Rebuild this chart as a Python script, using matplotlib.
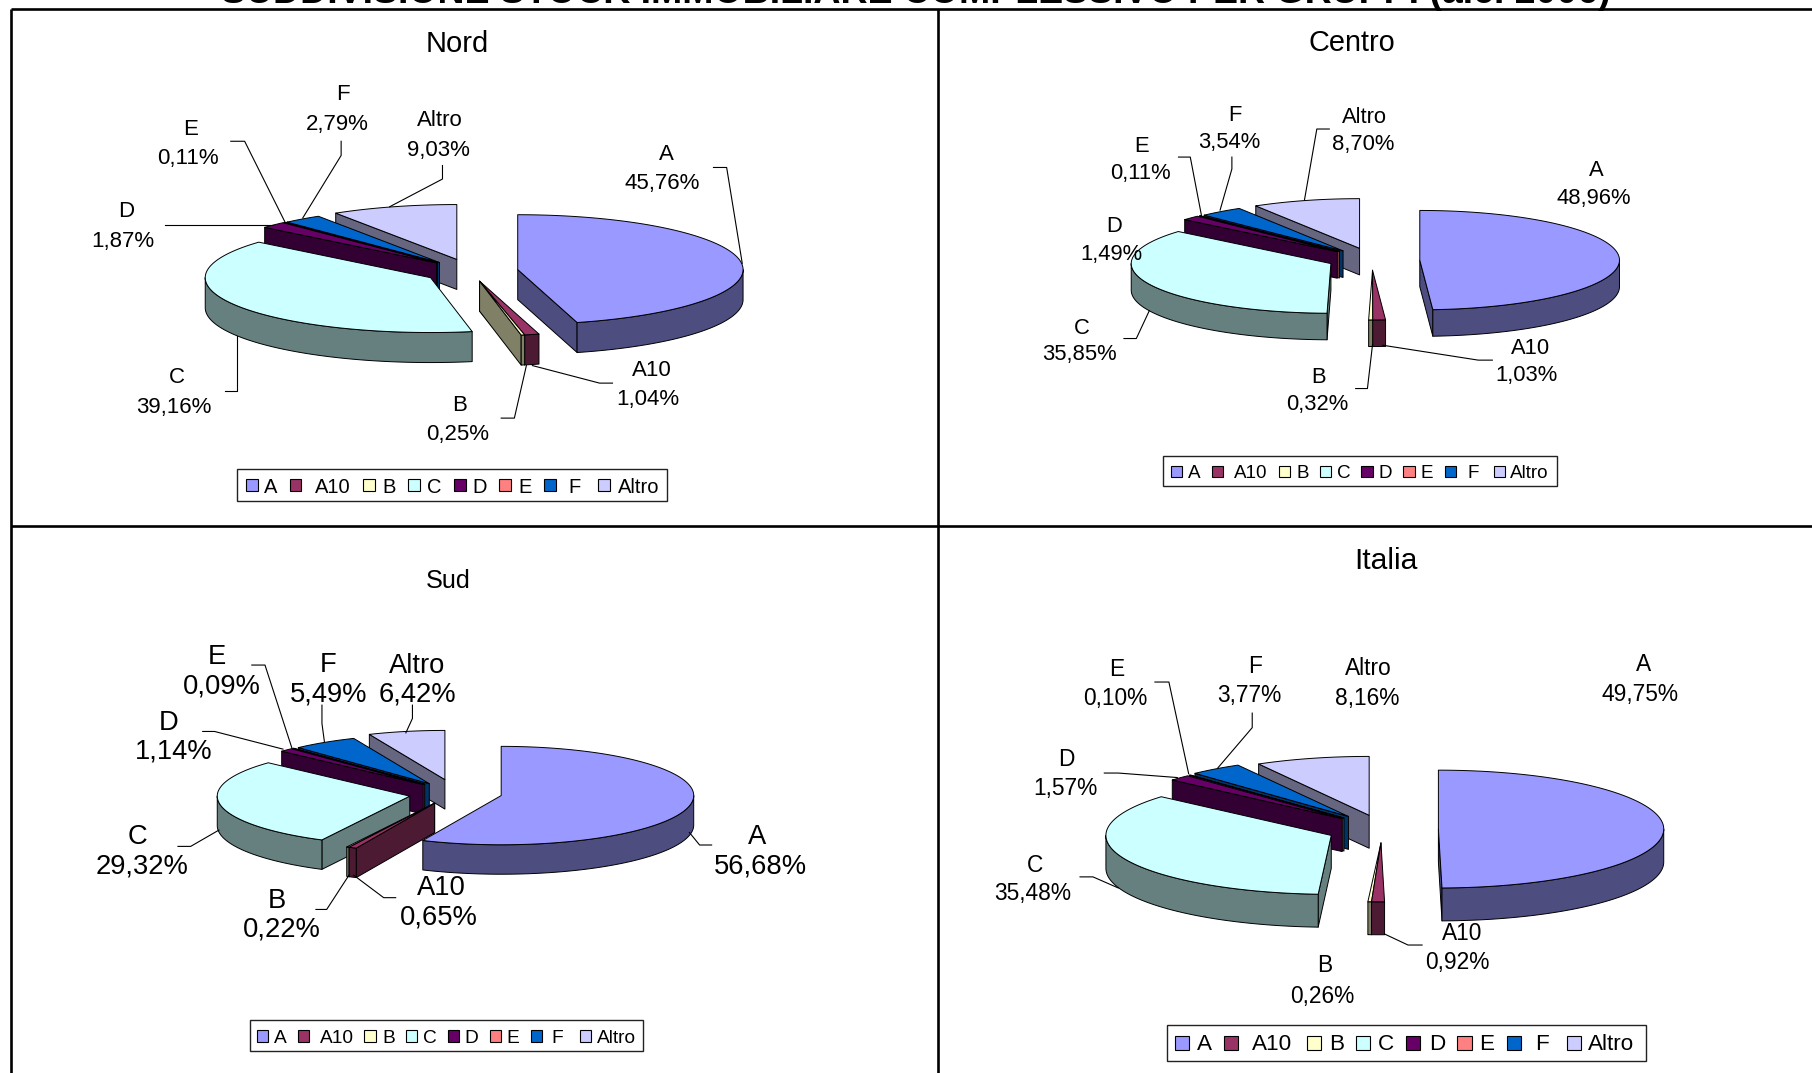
import numpy as np
import matplotlib
matplotlib.use("Agg")
import matplotlib.pyplot as plt
from matplotlib.patches import Polygon, Rectangle

plt.rcParams["font.family"] = ["Liberation Sans", "DejaVu Sans"]

# Building stock shares per cadastral group (percent)
categories = ["A", "A10", "B", "C", "D", "E", "F", "Altro"]
nord_values = [45.76, 1.04, 0.25, 39.16, 1.87, 0.11, 2.79, 9.03]
centro_values = [48.96, 1.03, 0.32, 35.85, 1.49, 0.11, 3.54, 8.70]
sud_values = [56.68, 0.65, 0.22, 29.32, 1.14, 0.09, 5.49, 6.42]
italia_values = [49.75, 0.92, 0.26, 35.48, 1.57, 0.10, 3.77, 8.16]

top_colors = ["#9999FF", "#993366", "#FFFFCC", "#CCFFFF", "#660066", "#FF8080", "#0066CC", "#CCCCFF"]
side_colors = ["#4D4D80", "#4D1A33", "#808066", "#668080", "#330033", "#804040", "#003366", "#666680"]

TITLE = "SUDDIVISIONE STOCK IMMOBILIARE COMPLESSIVO PER GRUPPI (a.c. 2006)"

# Vertical correction so centred text sits on the intended line
TEXT_DY = 2.0

# Page layout in a 1568 x 929 drawing space
panels = {
    "Nord": dict(
        values=nord_values, title_xy=(395.5, 36), title_size=21, label_size=16,
        rx=195, ry=47.5, depth=26,
        apex=[(448, 233.4), (415, 243.4), (415, 243.4), (372.6, 240.4),
              (377.7, 227.6), (378.5, 227.5), (380.3, 227.3), (395.3, 224.6)],
        names=[(577, 132), (564, 319), (398, 349), (153, 325), (109, 181), (165, 110), (297, 80), (381, 102)],
        pcts=[(573, 157), (561, 344), (396, 374), (150, 351), (106, 207), (163, 135), (292, 106), (379, 128)],
        leaders=[[(617.4, 145), (628.8, 145), (642.3, 228)],
                 [(530, 331.7), (518.8, 331.7), (460.7, 316.5)],
                 [(433.7, 362), (445.1, 362), (455.5, 316.5)],
                 [(194.6, 338.4), (205.4, 338.4), (205.4, 291)],
                 [(142.7, 194.5), (236, 194.5)],
                 [(199.7, 122.3), (211.7, 122.3), (247, 193)],
                 [(295.2, 122.3), (295.2, 134.6), (262, 188.7)],
                 [(382.9, 143.3), (382.9, 155), (337.2, 179)]],
        box=(205.4, 405.7, 576.9, 433.8), legend_size=14.5, swatch=10.3, legend_y=419.7,
        swatch_x=[212.7, 250.6, 313.9, 352.8, 392.7, 431.6, 471, 517.8],
        text_x=[228.3, 272.4, 331, 369.4, 408.8, 448.8, 491.8, 534.4]),
    "Centro": dict(
        values=centro_values, title_xy=(1169.5, 35), title_size=20.8, label_size=15.8,
        rx=172.8, ry=43, depth=23,
        apex=[(1228.6, 225.2), (1187.7, 234), (1187.7, 234), (1151.7, 228.2),
              (1157.2, 217.9), (1159, 217.7), (1162.2, 217.2), (1176.5, 215)],
        names=[(1381, 146), (1324, 300), (1141, 325), (936, 282), (964, 194), (988, 125), (1069, 98), (1181, 100)],
        pcts=[(1379, 170), (1321, 323), (1140, 348), (934, 305), (962, 218), (987, 148), (1064, 121), (1180, 123)],
        leaders=[[(1291.4, 311.8), (1279.2, 311.8), (1196.5, 298.9)],
                 [(1173.1, 336.4), (1183.3, 336.4), (1187.7, 298.4)],
                 [(972.6, 293.1), (983.3, 293.1), (994.5, 269.1)],
                 [(1019.8, 136), (1030, 136), (1039.8, 187.2)],
                 [(1066, 136), (1066, 146.3), (1055.8, 181.9)],
                 [(1150.3, 111.7), (1139.5, 111.7), (1128.8, 173.2)]],
        box=(1006.7, 394.9, 1347.4, 420.6), legend_size=13.6, swatch=9.7, legend_y=408,
        swatch_x=[1013, 1048.5, 1106.4, 1142, 1178, 1214.5, 1250, 1292.4],
        text_x=[1027.6, 1067.5, 1122, 1156.6, 1193.1, 1229.1, 1269.5, 1307]),
    "Sud": dict(
        values=sud_values, title_xy=(387.5, 501), title_size=18.2, label_size=19.7,
        rx=166.6, ry=42.6, depth=25.5,
        apex=[(433.7, 688.8), (376.1, 695.4), (376.1, 695.4), (354.6, 689.3),
              (366.2, 679.3), (367.5, 679), (371.5, 678.5), (385, 675)],
        names=[(655, 723), (382, 767), (240, 778), (119, 723), (146, 624), (188, 567), (284, 574), (361, 575)],
        pcts=[(658, 748), (380, 792), (244, 803), (123, 748), (150, 649), (192, 592), (284, 599), (361, 599)],
        leaders=[[(615.8, 731.6), (605.4, 731.6), (596.6, 720.8)],
                 [(342.4, 777.2), (332, 777.2), (306, 757.7)],
                 [(273.4, 787.4), (282.7, 787.4), (302, 757.7)],
                 [(154, 732.8), (165, 732.8), (189.4, 718.7)],
                 [(175.4, 633.3), (185.7, 633.3), (244.9, 648.6)],
                 [(217.9, 575.8), (229.3, 575.8), (252.7, 648)],
                 [(278.6, 610.5), (278.6, 626.4), (280.7, 642)],
                 [(356.9, 610.5), (356.9, 622), (351.2, 634.5)]],
        box=(216.3, 883.3, 556.1, 909.9), legend_size=13.8, swatch=9.7, legend_y=897,
        swatch_x=[222, 257.8, 315.4, 351.2, 387.5, 423.9, 459.1, 501.7],
        text_x=[237, 276.5, 330.5, 365.8, 402, 438.4, 477.3, 516.2]),
    "Italia": dict(
        values=italia_values, title_xy=(1199, 484), title_size=21.7, label_size=16.4,
        rx=195, ry=51, depth=28.5,
        apex=[(1244.7, 717.8), (1195, 729.8), (1195, 729.8), (1152, 723.3),
              (1161.5, 708.8), (1163, 708.3), (1166.9, 706.9), (1184.8, 705.9)],
        names=[(1422, 573), (1265, 806), (1146, 834), (896, 747), (923, 656), (966, 578), (1086, 575), (1184, 577)],
        pcts=[(1419, 599), (1261, 831), (1144, 861), (894, 772), (922, 681), (965, 603), (1081, 600), (1183, 603)],
        leaders=[[(1230.6, 818.2), (1218.4, 818.2), (1198, 808.6)],
                 [(934.6, 759.2), (945.8, 759.2), (967.7, 768.8)],
                 [(955.6, 669.3), (967.7, 669.3), (1018.8, 673.2)],
                 [(999.4, 590.5), (1011.5, 590.5), (1028.6, 669.9)],
                 [(1083.6, 617.4), (1083.6, 630), (1053.9, 664.8)]],
        box=(1010, 887.2, 1424.3, 918.6), legend_size=16.2, swatch=12.2, legend_y=902.7,
        swatch_x=[1016.9, 1059.2, 1130.8, 1173.6, 1217, 1261.2, 1304, 1355.6],
        text_x=[1035.4, 1083, 1150.3, 1192.6, 1236.4, 1280.2, 1328, 1374.1]),
}

fig = plt.figure(figsize=(18.12, 10.73), dpi=100, facecolor="white")
ax = fig.add_axes([0, 0, 1, 1])
ax.set_xlim(0, 1568)
ax.set_ylim(929, 0)
ax.axis("off")


def rim(apex, rx, ry, theta, dz=0.0):
    """Point on the rim of an elliptical slice; theta runs clockwise from 12 o'clock."""
    t = np.radians(theta)
    return np.column_stack([apex[0] + rx * np.sin(t), apex[1] - ry * np.cos(t) + dz])


def draw_slice(apex, rx, ry, depth, start, end, top, side, z):
    edge = dict(edgecolor="black", linewidth=0.7, joinstyle="round")
    a = np.array(apex)
    # Cut face on the leading edge, seen when it turns towards the viewer
    if np.sin(np.radians(start)) < -1e-6:
        p = rim(apex, rx, ry, start)[0]
        ax.add_patch(Polygon([a, p, p + [0, depth], a + [0, depth]], facecolor=side, zorder=z, **edge))
    # Cut face on the trailing edge
    if np.sin(np.radians(end)) > 1e-6:
        p = rim(apex, rx, ry, end)[0]
        ax.add_patch(Polygon([a, p, p + [0, depth], a + [0, depth]], facecolor=side, zorder=z, **edge))
    # Outer wall on the front half of the pie
    lo, hi = max(start, 90), min(end, 270)
    if hi > lo:
        th = np.linspace(lo, hi, 90)
        wall = np.vstack([rim(apex, rx, ry, th), rim(apex, rx, ry, th[::-1], depth)])
        ax.add_patch(Polygon(wall, facecolor=side, zorder=z, **edge))
    # Top surface
    th = np.linspace(start, end, max(3, int(end - start) * 2))
    ax.add_patch(Polygon(np.vstack([a, rim(apex, rx, ry, th)]), facecolor=top, zorder=z, **edge))


def label(x, y, s, size, **kw):
    ax.text(x, y + TEXT_DY, s, fontsize=size, va="center", zorder=30, **kw)


for name, p in panels.items():
    values = np.array(p["values"])
    edges = np.concatenate([[0], np.cumsum(values)]) / values.sum() * 360
    mids = (edges[:-1] + edges[1:]) / 2
    # Paint from the back of the pie towards the viewer
    order = np.argsort(-np.abs(mids - 180))
    for rank, i in enumerate(order):
        draw_slice(p["apex"][i], p["rx"], p["ry"], p["depth"], edges[i], edges[i + 1],
                   top_colors[i], side_colors[i], 3 + rank)

    label(*p["title_xy"], name, p["title_size"], ha="center")

    for cat, v, nm, pc in zip(categories, p["values"], p["names"], p["pcts"]):
        label(*nm, cat, p["label_size"], ha="center")
        label(*pc, f"{v:.2f}".replace(".", ",") + "%", p["label_size"], ha="center")

    for pts in p["leaders"]:
        xs, ys = zip(*pts)
        ax.plot(xs, ys, color="black", lw=0.8, zorder=25)

    # Legend frame, swatches and entries
    x0, y0, x1, y1 = p["box"]
    ax.add_patch(Rectangle((x0, y0), x1 - x0, y1 - y0, facecolor="white", edgecolor="#222222",
                           linewidth=1.0, zorder=20))
    s = p["swatch"]
    for cat, col, sx, tx in zip(categories, top_colors, p["swatch_x"], p["text_x"]):
        ax.add_patch(Rectangle((sx, p["legend_y"] - s / 2), s, s, facecolor=col, edgecolor="black",
                               linewidth=0.8, zorder=21))
        label(tx, p["legend_y"], cat, p["legend_size"], ha="left")

# Table rules around the four panels
rule = dict(color="black", lw=1.9, solid_capstyle="butt", zorder=2)
ax.plot([9.4, 1568], [8.2, 8.2], **rule)
ax.plot([9.4, 1568], [455, 455], **rule)
ax.plot([9.4, 9.4], [8.2, 929], **rule)
ax.plot([812, 812], [8.2, 929], **rule)

ax.text(792.5, 2.6, TITLE, fontsize=27, fontweight="bold", ha="center", va="baseline", zorder=30)

fig.savefig("out.png", dpi=100, facecolor="white")
